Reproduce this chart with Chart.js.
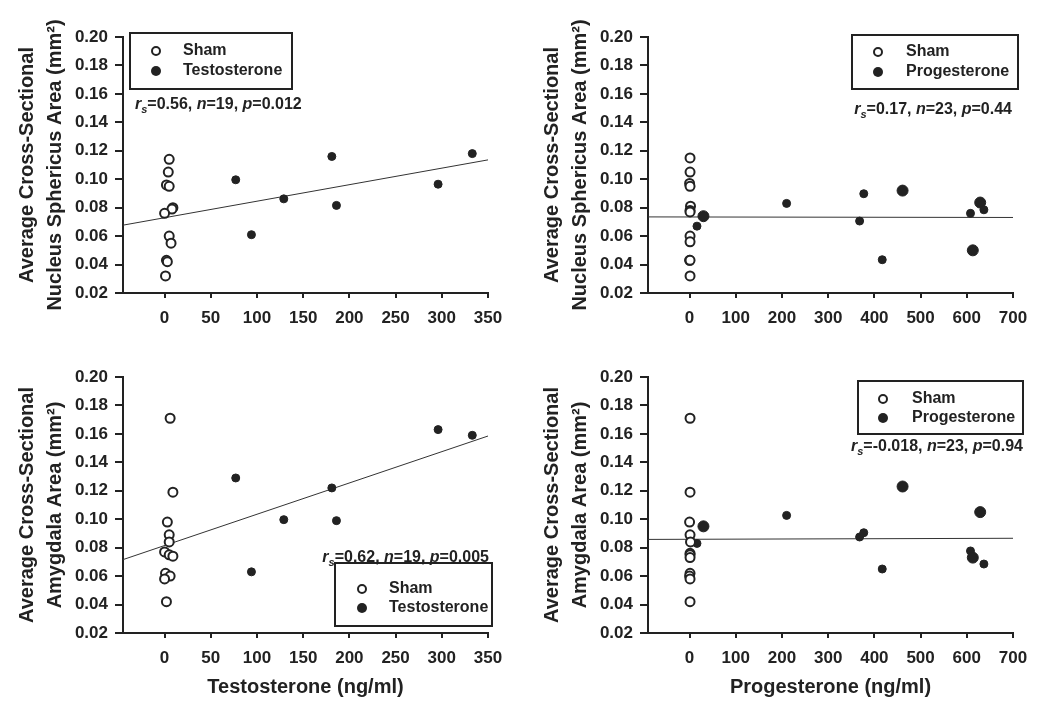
<!DOCTYPE html>
<html>
<head>
<meta charset="utf-8">
<script src="https://cdn.jsdelivr.net/npm/chart.js@4/dist/chart.umd.min.js"></script>
<style>
  body { margin: 0; background: #fff; }
  #wrap { position: relative; width: 1050px; height: 714px; background: #fff; overflow: hidden; }
  canvas { position: absolute; }
</style>
</head>
<body>
<div id="wrap">
  <canvas id="c1" width="525" height="357" style="left:0;top:0"></canvas>
  <canvas id="c2" width="525" height="357" style="left:525px;top:0"></canvas>
  <canvas id="c3" width="525" height="357" style="left:0;top:340px"></canvas>
  <canvas id="c4" width="525" height="357" style="left:525px;top:340px"></canvas>
</div>
<script>
// sham animals, testosterone (ng/ml)
var shamTesto = [5, 4, 2, 5, 9, 8, 0, 5, 7, 2, 3, 1];
var shamNS_T = [0.114, 0.105, 0.096, 0.095, 0.080, 0.079, 0.076, 0.060, 0.055, 0.043, 0.042, 0.032];
var shamTestoA = [6, 9, 3, 5, 5, 0, 5, 9, 1, 6, 0, 2];
var shamA_T = [0.171, 0.119, 0.098, 0.089, 0.084, 0.077, 0.075, 0.074, 0.062, 0.060, 0.058, 0.042];

// sham animals, progesterone (ng/ml)
var shamProg = [1, 1, 0, 1, 2, 1, 1, 1, 1, 0, 1, 1];
var shamNS_P = [0.115, 0.105, 0.097, 0.095, 0.081, 0.078, 0.077, 0.060, 0.056, 0.043, 0.043, 0.032];
var shamA_P = [0.171, 0.119, 0.098, 0.089, 0.084, 0.076, 0.075, 0.073, 0.062, 0.060, 0.058, 0.042];

// testosterone treated
var testo = [77, 94, 129, 181, 186, 296, 333];
var testoNS = [0.0996, 0.061, 0.0862, 0.116, 0.0816, 0.0965, 0.118];
var testoA = [0.129, 0.063, 0.0997, 0.122, 0.099, 0.163, 0.159];

// progesterone treated
var prog = [16, 30, 210, 368, 377, 417, 461, 608, 613, 629, 637];
var progNS = [0.067, 0.074, 0.083, 0.0706, 0.0898, 0.0434, 0.092, 0.076, 0.050, 0.0836, 0.0785];
var progA = [0.083, 0.095, 0.1027, 0.0875, 0.0905, 0.065, 0.123, 0.0777, 0.073, 0.105, 0.0685];

// fitted lines (end points)
var fitTestoX = [-45, 350];
var fitNS_T = [0.0677, 0.1136];
var fitA_T = [0.0716, 0.1585];
var fitProgX = [-90, 700];
var fitNS_P = [0.0735, 0.0731];
var fitA_P = [0.0858, 0.0866];

// stats: rs, n, p
var statRs = ['0.56', '0.17', '0.62', '-0.018'];
var statN = ['19', '23', '19', '23'];
var statP = ['0.012', '0.44', '0.005', '0.94'];

// tick labels
var testoTicks = [0, 50, 100, 150, 200, 250, 300, 350];
var progTicks = [0, 100, 200, 300, 400, 500, 600, 700];
var areaTicks = [0.02, 0.04, 0.06, 0.08, 0.10, 0.12, 0.14, 0.16, 0.18, 0.20];

var FONT = '"Liberation Sans", Arial, Helvetica, sans-serif';
var INK = '#222';
Chart.defaults.font.family = FONT;
Chart.defaults.color = INK;

function pts(xs, ys) {
  return xs.map(function (x, i) { return { x: x, y: ys[i] }; });
}

var panelNotes = {
  id: 'panelNotes',
  afterDraw: function (chart, args, o) {
    var ctx = chart.ctx;
    var ds = chart.data.datasets;
    ctx.save();
    ctx.strokeStyle = INK;
    ctx.lineWidth = 2;
    ctx.strokeRect(o.box[0], o.box[1], o.box[2], o.box[3]);
    ctx.font = 'bold 16px ' + FONT;
    ctx.textBaseline = 'middle';
    [0, 1].forEach(function (i) {
      var y = o.rows[i];
      ctx.beginPath();
      ctx.arc(o.markX, y, i === 0 ? 4 : 5, 0, Math.PI * 2);
      if (i === 0) {
        ctx.fillStyle = '#fff'; ctx.fill();
        ctx.lineWidth = 2; ctx.stroke();
      } else {
        ctx.fillStyle = INK; ctx.fill();
      }
      ctx.fillStyle = INK;
      ctx.fillText(ds[i].label, o.textX, y);
    });

    // r_s=..., n=..., p=...
    var k = o.stat;
    var parts = [
      ['r', 'i'], ['s', 's'], ['=' + statRs[k] + ', ', ''],
      ['n', 'i'], ['=' + statN[k] + ', ', ''],
      ['p', 'i'], ['=' + statP[k], '']
    ];
    function setFont(kind) {
      if (kind === 'i') ctx.font = 'italic bold 16px ' + FONT;
      else if (kind === 's') ctx.font = 'italic bold 11px ' + FONT;
      else ctx.font = 'bold 16px ' + FONT;
    }
    var total = 0;
    parts.forEach(function (p) { setFont(p[1]); total += ctx.measureText(p[0]).width; });
    var x = o.statAlign === 'right' ? o.statX - total : o.statX;
    var y = o.statY;
    parts.forEach(function (p) {
      setFont(p[1]);
      ctx.fillText(p[0], x, y + (p[1] === 's' ? 5 : 0));
      x += ctx.measureText(p[0]).width;
    });
    ctx.restore();
  }
};

function makePanel(id, cfg) {
  new Chart(document.getElementById(id), {
    type: 'scatter',
    data: {
      datasets: [{
        label: 'Sham',
        data: pts(cfg.shamX, cfg.shamY),
        backgroundColor: '#fff',
        borderColor: INK,
        borderWidth: 2,
        pointRadius: 4.5,
        order: 1
      }, {
        label: cfg.treat,
        data: pts(cfg.treatX, cfg.treatY),
        backgroundColor: INK,
        borderColor: INK,
        borderWidth: 1,
        pointRadius: cfg.radius,
        order: 1
      }, {
        label: 'fit',
        data: pts(cfg.fitX, cfg.fitY),
        showLine: true,
        borderColor: '#333',
        borderWidth: 1,
        pointRadius: 0,
        order: 2
      }]
    },
    options: {
      responsive: false,
      animation: false,
      layout: { padding: { left: 0, top: 37, right: 37, bottom: 0 }, autoPadding: false },
      plugins: {
        legend: { display: false },
        tooltip: { enabled: false },
        panelNotes: cfg.notes
      },
      scales: {
        x: {
          type: 'linear',
          min: cfg.xMin,
          max: cfg.xMax,
          afterBuildTicks: function (s) {
            s.ticks = cfg.xTicks.map(function (v) { return { value: v }; });
          },
          ticks: {
            autoSkip: false, maxRotation: 0,
            padding: 10, color: INK, font: { size: 17, weight: 'bold' }
          },
          grid: { drawOnChartArea: false, tickLength: 5, color: INK, lineWidth: 2 },
          border: { color: INK, width: 2 },
          title: {
            display: !!cfg.xTitle, text: cfg.xTitle, color: INK,
            font: { size: 20, weight: 'bold', lineHeight: 1 }, padding: { top: 0, bottom: 0 }
          },
          afterFit: function (s) { s.height = 64; }
        },
        y: {
          min: areaTicks[0],
          max: areaTicks[areaTicks.length - 1],
          afterBuildTicks: function (s) {
            s.ticks = areaTicks.map(function (v) { return { value: v }; });
          },
          ticks: {
            autoSkip: false, padding: 7, color: INK, font: { size: 17, weight: 'bold' },
            callback: function (v) { return v.toFixed(2); }
          },
          grid: { drawOnChartArea: false, tickLength: 8, color: INK, lineWidth: 2 },
          border: { color: INK, width: 2 },
          title: {
            display: true, text: cfg.yTitle, color: INK,
            font: { size: 20, weight: 'bold', lineHeight: 1.4 }, padding: { top: 13, bottom: 0 }
          },
          afterFit: function (s) { s.width = 123; }
        }
      }
    },
    plugins: [panelNotes]
  });
}

var nsTitle = ['Average Cross-Sectional', 'Nucleus Sphericus Area (mm\u00b2)'];
var amTitle = ['Average Cross-Sectional', 'Amygdala Area (mm\u00b2)'];
var rTesto = [4, 4, 4, 4, 4, 4, 4];
var rProg = [4, 5.5, 4, 4, 4, 4, 5.5, 4, 5.5, 5.5, 4];

makePanel('c1', {
  shamX: shamTesto, shamY: shamNS_T, treat: 'Testosterone', treatX: testo, treatY: testoNS,
  radius: rTesto, fitX: fitTestoX, fitY: fitNS_T, xMin: -45, xMax: 350, xTicks: testoTicks,
  xTitle: '', yTitle: nsTitle,
  notes: { box: [130, 33, 162, 56], markX: 156, textX: 183, rows: [51, 71], stat: 0, statX: 135, statY: 105 }
});
makePanel('c2', {
  shamX: shamProg, shamY: shamNS_P, treat: 'Progesterone', treatX: prog, treatY: progNS,
  radius: rProg, fitX: fitProgX, fitY: fitNS_P, xMin: -90, xMax: 700, xTicks: progTicks,
  xTitle: '', yTitle: nsTitle,
  notes: { box: [327, 35, 166, 54], markX: 353, textX: 381, rows: [52, 72], stat: 1, statX: 487, statAlign: 'right', statY: 110 }
});
makePanel('c3', {
  shamX: shamTestoA, shamY: shamA_T, treat: 'Testosterone', treatX: testo, treatY: testoA,
  radius: rTesto, fitX: fitTestoX, fitY: fitA_T, xMin: -45, xMax: 350, xTicks: testoTicks,
  xTitle: 'Testosterone (ng/ml)', yTitle: amTitle,
  notes: { box: [335, 223, 157, 63], markX: 362, textX: 389, rows: [249, 268], stat: 2, statX: 489, statAlign: 'right', statY: 218 }
});
makePanel('c4', {
  shamX: shamProg, shamY: shamA_P, treat: 'Progesterone', treatX: prog, treatY: progA,
  radius: rProg, fitX: fitProgX, fitY: fitA_P, xMin: -90, xMax: 700, xTicks: progTicks,
  xTitle: 'Progesterone (ng/ml)', yTitle: amTitle,
  notes: { box: [333, 41, 165, 53], markX: 358, textX: 387, rows: [59, 78], stat: 3, statX: 498, statAlign: 'right', statY: 107 }
});
</script>
</body>
</html>
